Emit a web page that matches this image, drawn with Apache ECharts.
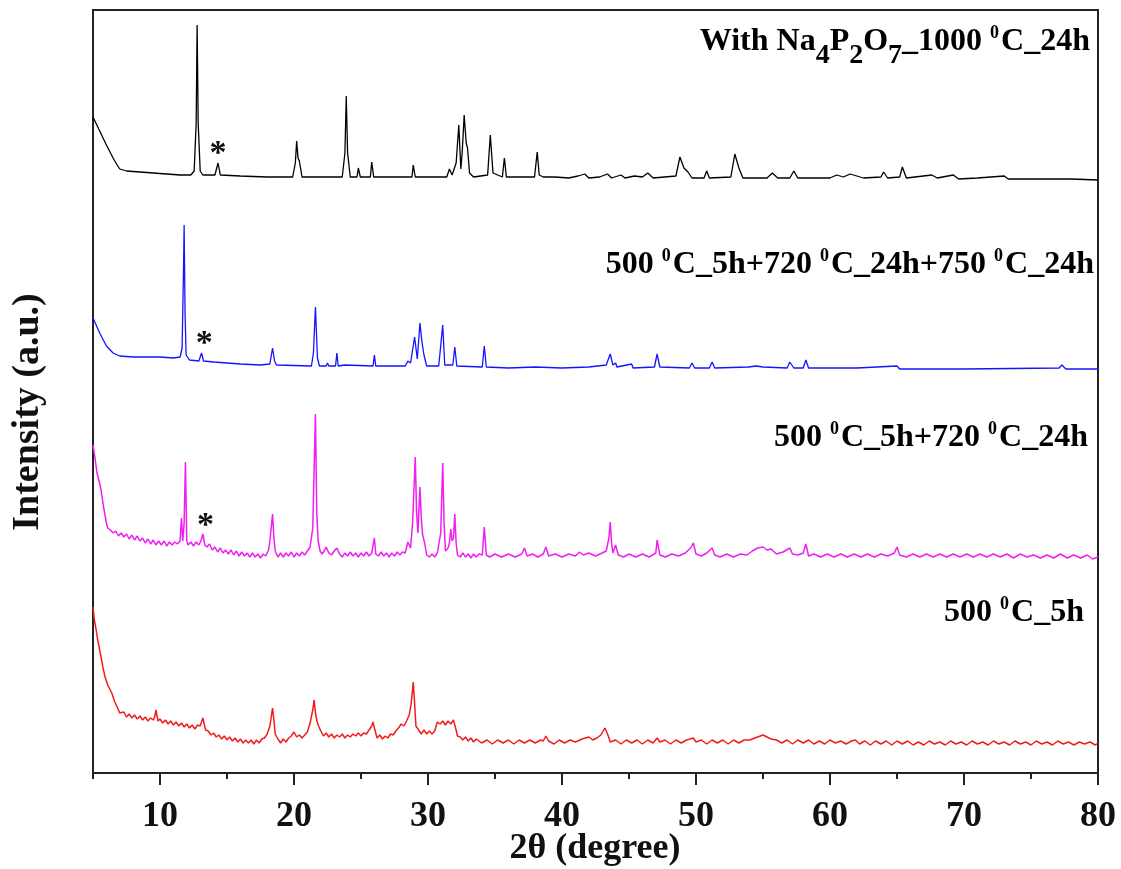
<!DOCTYPE html>
<html>
<head>
<meta charset="utf-8">
<script src="https://cdn.jsdelivr.net/npm/echarts@6/dist/echarts.min.js"></script>
<style>html,body{margin:0;padding:0;background:#fff}#c{width:1121px;height:869px}</style>
</head>
<body>
<div id="c"></div>
<script>
// ---- data (2θ in degrees, intensity in arbitrary units) ----
const seriesNames = ['With Na4P2O7_1000 °C_24h', '500 °C_5h+720 °C_24h+750 °C_24h', '500 °C_5h+720 °C_24h', '500 °C_5h'];
const seriesColors = ['#000000', '#1414ff', '#f01ef0', '#f01c1c'];
const offsets = [590, 400, 210, 25];
const xAxisTitle = '2θ (degree)';
const yAxisTitle = 'Intensity (a.u.)';

const blackData = [[5,66],[5.5,52],[6,38],[6.5,25],[6.8,18],[7,14],[7.5,12],[8.5,11],[9.5,10],[10.5,9],[11.5,8],[12.3,8],[12.55,12],[12.7,60],[12.77,158],[12.85,60],[13,12],[13.2,8],[14.1,8],[14.33,20],[14.5,8],[16,7],[18,6],[19.9,6],[20.1,20],[20.2,42],[20.3,25],[20.4,22],[20.6,6],[23.6,6],[23.8,30],[23.9,87],[24,30],[24.2,6],[24.7,6],[24.8,15],[24.95,6],[25.7,6],[25.8,21],[25.95,6],[28.1,6],[28.2,8],[28.3,6],[28.8,6],[28.9,18],[29.05,6],[31.4,6],[31.6,14],[31.8,8],[32.1,20],[32.3,58],[32.45,14],[32.55,30],[32.7,68],[32.85,40],[32.95,35],[33.1,10],[33.4,6],[34.45,8],[34.65,48],[34.85,10],[35.55,6],[35.7,25],[35.85,6],[37.95,6],[38.15,31],[38.3,8],[38.6,6],[39.5,6],[40.5,5],[41.2,7],[41.7,9],[42,5],[42.8,6],[43.4,9],[43.7,5],[44.4,8],[44.7,5],[45.4,7],[46,6],[46.4,10],[46.8,5],[48.5,7],[48.8,26],[49.1,15],[49.4,11],[49.7,5],[50.6,5],[50.8,12],[51,5],[52.6,6],[52.9,29],[53.2,15],[53.5,5],[55.3,5],[55.7,10],[56.1,5],[57,5],[57.3,12],[57.6,5],[58.5,5],[60,5],[60.5,8],[61,6],[61.5,9],[62,7],[62.5,5],[63.8,6],[64,11],[64.3,5],[65.2,6],[65.4,16],[65.7,5],[67.6,8],[68,5],[69.2,8],[69.6,4],[71,5],[73,7],[73.3,4],[76,4],[78,4],[80,3]];

const blueData = [[5,55],[5.5,40],[6,27],[6.5,20],[7,17],[8,16],[9,16],[10,16],[11,15],[11.5,16],[11.65,25],[11.75,100],[11.8,148],[11.87,60],[11.95,18],[12.2,13],[12.9,12],[13.1,20],[13.25,12],[14,11],[15,10],[16,9],[17.5,8],[18.2,9],[18.4,25],[18.55,12],[18.7,8],[21.3,7],[21.45,20],[21.6,66],[21.75,15],[21.9,7],[22.4,7],[22.5,10],[22.6,7],[23.1,7],[23.2,20],[23.3,7],[23.8,8],[23.9,6],[25.9,7],[26,18],[26.1,7],[28.3,7],[28.5,12],[28.7,10],[29,36],[29.2,14],[29.4,50],[29.55,31],[29.7,18],[29.9,7],[30.8,7],[31.1,48],[31.25,8],[31.85,8],[32,26],[32.15,7],[34.05,6],[34.2,27],[34.35,6],[36,5],[38,6],[40,5],[42,6],[43.3,8],[43.6,19],[43.8,8],[44,10],[44.1,6],[45.2,9],[45.3,5],[46.9,6],[47.1,19],[47.3,6],[49.5,5],[49.7,10],[49.9,5],[51,5],[51.2,11],[51.4,5],[53.9,6],[54.5,7],[55,6],[56.8,5],[57,11],[57.3,5],[58,5],[58.2,13],[58.4,5],[62,5],[65,7],[65.2,4],[70,4],[77.1,5],[77.3,8],[77.6,4],[80,4]];

const magentaData = [[5,118],[5.15,105],[5.3,90],[5.45,82],[5.6,73],[5.8,55],[6,40],[6.1,35],[6.3,33],[6.5,30],[6.7,32],[6.9,27],[7.1,30],[7.3,26],[7.5,29],[7.7,24],[7.9,28],[8.1,23],[8.3,27],[8.5,22],[8.7,25],[8.9,20],[9.1,24],[9.3,19],[9.5,23],[9.7,18],[9.9,22],[10.1,18],[10.3,22],[10.5,17],[10.7,21],[10.9,18],[11.1,21],[11.3,19],[11.5,22],[11.6,45],[11.7,22],[11.8,40],[11.9,101],[12,22],[12.1,18],[12.3,21],[12.5,17],[12.7,21],[12.9,18],[13.05,22],[13.2,29],[13.35,18],[13.5,16],[13.7,19],[13.9,13],[14.1,16],[14.3,11],[14.5,15],[14.7,10],[14.9,13],[15.1,9],[15.3,13],[15.5,8],[15.7,12],[15.9,7],[16.1,11],[16.3,7],[16.5,10],[16.7,6],[16.9,10],[17.1,6],[17.3,9],[17.5,5],[17.7,9],[17.9,7],[18.1,13],[18.2,22],[18.4,49],[18.5,25],[18.6,12],[18.8,6],[19,10],[19.2,6],[19.4,10],[19.6,7],[19.8,11],[20,6],[20.2,10],[20.4,7],[20.6,11],[20.8,8],[21,12],[21.2,16],[21.4,35],[21.6,149],[21.7,50],[21.8,22],[21.95,12],[22.1,9],[22.3,13],[22.4,16],[22.6,10],[22.8,8],[23,12],[23.2,15],[23.4,9],[23.6,6],[23.8,10],[24,7],[24.2,11],[24.4,7],[24.6,10],[24.8,6],[25,10],[25.2,7],[25.4,11],[25.6,7],[25.8,10],[26,25],[26.1,9],[26.3,7],[26.5,11],[26.7,7],[26.9,10],[27.1,6],[27.3,10],[27.5,7],[27.7,11],[27.9,8],[28.1,11],[28.3,10],[28.5,21],[28.7,15],[28.85,40],[29.05,106],[29.15,50],[29.25,30],[29.4,76],[29.5,45],[29.6,28],[29.75,20],[29.9,8],[30.1,6],[30.3,9],[30.5,6],[30.7,10],[30.8,12],[30.95,30],[31.1,100],[31.2,40],[31.3,12],[31.5,15],[31.6,20],[31.7,34],[31.8,22],[31.9,25],[32,49],[32.1,20],[32.2,8],[32.4,6],[32.6,10],[32.8,6],[33,9],[33.2,5],[33.4,9],[33.6,6],[33.8,9],[34.05,8],[34.2,36],[34.35,8],[34.6,6],[35,9],[35.5,6],[36,9],[36.5,6],[37,9],[37.2,15],[37.4,7],[37.8,9],[38.2,6],[38.6,9],[38.8,16],[39,7],[39.5,9],[40,6],[40.5,9],[41,7],[41.3,11],[41.6,8],[42,10],[42.5,7],[43,10],[43.3,12],[43.5,25],[43.6,41],[43.7,20],[43.8,10],[44,18],[44.2,8],[44.6,6],[45,9],[45.5,6],[46,9],[46.5,6],[47,10],[47.1,23],[47.3,8],[47.7,6],[48.2,9],[48.7,7],[49.2,10],[49.6,15],[49.8,20],[50,9],[50.4,7],[50.8,10],[51.2,15],[51.4,8],[51.8,6],[52.3,9],[52.8,6],[53.3,9],[53.8,8],[54.2,12],[54.6,15],[55,16],[55.3,13],[55.6,14],[56,9],[56.5,11],[57,15],[57.2,9],[57.6,8],[58,10],[58.2,19],[58.4,7],[58.8,9],[59.3,6],[59.8,9],[60.3,6],[60.8,9],[61.3,6],[61.8,9],[62.3,6],[62.8,9],[63.3,6],[63.8,9],[64.3,7],[64.8,10],[65,16],[65.2,8],[65.7,6],[66.2,9],[66.7,6],[67.2,9],[67.7,6],[68.2,9],[68.7,6],[69.2,9],[69.7,6],[70.2,9],[70.7,6],[71.2,9],[71.7,6],[72.2,9],[72.7,6],[73.2,9],[73.7,5],[74.2,9],[74.7,6],[75.2,8],[75.7,5],[76.2,8],[76.7,5],[77.2,9],[77.7,5],[78.2,8],[78.7,5],[79.2,8],[79.6,4],[80,6]];

const redData = [[5,141],[5.1,128],[5.2,121],[5.35,108],[5.5,98],[5.6,91],[5.75,80],[5.9,71],[6.1,63],[6.4,55],[6.6,47],[6.8,41],[7,35],[7.1,33],[7.3,36],[7.5,31],[7.7,34],[7.9,30],[8.1,33],[8.3,29],[8.5,32],[8.7,28],[8.9,31],[9.1,27],[9.3,30],[9.5,28],[9.6,31],[9.7,38],[9.85,27],[10,29],[10.2,25],[10.4,28],[10.6,24],[10.8,27],[11,23],[11.2,26],[11.4,22],[11.6,25],[11.8,21],[12,24],[12.2,20],[12.4,23],[12.6,19],[12.8,23],[13,22],[13.2,30],[13.4,18],[13.6,17],[13.8,13],[14,15],[14.2,11],[14.4,13],[14.6,9],[14.8,12],[15,8],[15.2,11],[15.4,7],[15.6,10],[15.8,6],[16,9],[16.2,5],[16.4,8],[16.6,5],[16.8,8],[17,4],[17.2,8],[17.4,5],[17.6,9],[17.8,10],[18,14],[18.2,22],[18.4,40],[18.5,28],[18.6,14],[18.8,9],[19,5],[19.2,9],[19.4,6],[19.6,10],[19.8,12],[20,16],[20.2,11],[20.4,13],[20.6,10],[20.8,13],[21,16],[21.2,25],[21.4,38],[21.5,48],[21.6,35],[21.7,28],[21.8,23],[22,17],[22.2,12],[22.4,15],[22.6,11],[22.8,14],[23,10],[23.2,13],[23.4,11],[23.6,14],[23.8,10],[24,13],[24.2,11],[24.4,14],[24.6,12],[24.8,15],[25,12],[25.2,15],[25.4,14],[25.6,18],[25.8,22],[25.9,26],[26,20],[26.2,10],[26.4,13],[26.6,9],[26.8,12],[27,10],[27.2,14],[27.4,13],[27.6,17],[27.8,20],[28,24],[28.2,22],[28.4,27],[28.6,33],[28.75,45],[28.9,66],[29,45],[29.1,22],[29.3,18],[29.5,14],[29.7,18],[29.9,14],[30.1,17],[30.3,14],[30.5,17],[30.7,26],[30.9,24],[31.1,27],[31.3,23],[31.5,27],[31.7,24],[31.9,28],[32.1,18],[32.2,12],[32.4,11],[32.6,8],[32.8,11],[33,7],[33.2,10],[33.4,6],[33.6,9],[34,5],[34.4,8],[34.8,4],[35.2,8],[35.6,5],[36,8],[36.4,4],[36.8,8],[37.2,5],[37.6,8],[38,5],[38.4,8],[38.6,7],[38.8,12],[39,7],[39.4,4],[39.8,8],[40.2,5],[40.6,8],[41,6],[41.5,9],[42,11],[42.3,8],[42.6,10],[42.9,13],[43.2,20],[43.4,14],[43.6,6],[44,8],[44.4,4],[44.8,8],[45.2,5],[45.6,8],[46,4],[46.4,8],[46.8,5],[47.1,10],[47.3,6],[47.7,8],[48.1,4],[48.5,8],[48.9,5],[49.3,8],[49.8,10],[50,6],[50.4,8],[50.8,4],[51.2,8],[51.6,5],[52,8],[52.4,4],[52.8,8],[53.2,5],[53.6,8],[54,8],[54.4,10],[54.8,12],[55,13],[55.3,11],[55.6,9],[56,8],[56.4,5],[56.8,8],[57.2,4],[57.6,8],[58,5],[58.4,8],[58.8,4],[59.2,7],[59.6,4],[60,8],[60.4,5],[60.8,7],[61.2,4],[61.6,7],[61.9,8],[62.2,4],[62.6,7],[63,3],[63.4,7],[63.8,4],[64.2,7],[64.6,3],[65,7],[65.4,4],[65.8,7],[66.2,3],[66.6,6],[67,3],[67.4,7],[67.8,4],[68.2,6],[68.6,3],[69,7],[69.4,4],[69.8,6],[70.2,3],[70.6,7],[71,4],[71.4,6],[71.8,3],[72.2,7],[72.6,4],[73,6],[73.4,3],[73.8,7],[74.2,4],[74.6,6],[75,3],[75.4,7],[75.8,4],[76.2,6],[76.6,3],[77,7],[77.4,4],[77.8,6],[78.2,3],[78.6,6],[79,4],[79.4,6],[79.8,3],[80,5]];

const allData = [blackData, blueData, magentaData, redData];
// asterisk marks: [series index, 2θ, intensity]
const starMarks = [[0, 14.33, 35], [1, 13.3, 35], [2, 13.4, 43]];

const xMin = 5, xMax = 80, xInterval = 5;
const xMajorTicks = [10, 20, 30, 40, 50, 60, 70, 80];
const xMinorTicks = [5, 15, 25, 35, 45, 55, 65, 75];
const yMax = 763;

// ---- chart ----
const serif = 'Liberation Serif';
const chart = echarts.init(document.getElementById('c'));

const series = allData.map((d, i) => {
  const stars = starMarks.filter(s => s[0] === i).map(s => ({
    coord: [s[1], s[2] + offsets[i]], value: '*'
  }));
  return {
    type: 'line',
    name: seriesNames[i],
    data: d.map(p => [p[0], p[1] + offsets[i]]),
    showSymbol: false,
    symbol: 'none',
    smooth: false,
    silent: true,
    animation: false,
    lineStyle: { color: seriesColors[i], width: i >= 2 ? 1.5 : 1.3 },
    markPoint: stars.length ? {
      symbol: 'circle', symbolSize: 0, silent: true, animation: false,
      label: { show: true, formatter: '*', color: '#111', fontFamily: serif, fontWeight: 'bold', fontSize: 34, offset: [0, 6] },
      data: stars
    } : undefined
  };
});

const richBase = {
  n: { fontFamily: serif, fontWeight: 'bold', fontSize: 32, color: '#111', verticalAlign: 'middle', lineHeight: 40 },
  sub: { fontFamily: serif, fontWeight: 'bold', fontSize: 28, color: '#111', verticalAlign: 'bottom', lineHeight: 40, padding: [0, 0, -8, 0] },
  sup: { fontFamily: serif, fontWeight: 'bold', fontSize: 18, color: '#111', verticalAlign: 'top', lineHeight: 40, padding: [2, 2, 0, 0] }
};
function lbl(text, right, top) {
  return { type: 'text', right: right, top: top, silent: true,
    style: { text: text, rich: richBase } };
}

chart.setOption({
  animation: false,
  backgroundColor: '#fff',
  grid: { left: 93, right: 23, top: 10, bottom: 96, outerBoundsMode: 'none', containLabel: false, show: true, borderColor: '#222', borderWidth: 2, backgroundColor: 'transparent' },
  xAxis: [{
    type: 'value', min: xMin, max: xMax, interval: xInterval,
    axisLine: { show: true, lineStyle: { color: '#222', width: 2 } },
    axisTick: { show: true, inside: false, length: 12, customValues: xMajorTicks, lineStyle: { color: '#222', width: 2 } },
    axisLabel: { show: true, customValues: xMajorTicks, margin: 26, fontFamily: serif, fontWeight: 'bold', fontSize: 36, color: '#111' },
    splitLine: { show: false }
  }, {
    type: 'value', min: xMin, max: xMax, interval: xInterval, position: 'bottom', gridIndex: 0,
    axisLine: { show: false },
    axisTick: { show: true, inside: false, length: 6, customValues: xMinorTicks, lineStyle: { color: '#222', width: 2 } },
    axisLabel: { show: false },
    splitLine: { show: false }
  }],
  yAxis: {
    type: 'value', min: 0, max: yMax,
    axisLine: { show: true, lineStyle: { color: '#222', width: 2 } },
    axisTick: { show: false }, axisLabel: { show: false }, splitLine: { show: false }
  },
  series: series,
  graphic: [
    { type: 'text', x: 28, y: 412, rotation: Math.PI / 2, silent: true,
      style: { text: yAxisTitle, align: 'center', verticalAlign: 'middle', fontFamily: serif, fontWeight: 'bold', fontSize: 38, fill: '#111' } },
    { type: 'text', x: 595, y: 849, silent: true,
      style: { text: xAxisTitle, align: 'center', verticalAlign: 'middle', fontFamily: serif, fontWeight: 'bold', fontSize: 36, fill: '#111' } },
    lbl('{n|With Na}{sub|4}{n|P}{sub|2}{n|O}{sub|7}{n|_1000 }{sup|0}{n|C_24h}', 31, 22),
    lbl('{n|500 }{sup|0}{n|C_5h+720 }{sup|0}{n|C_24h+750 }{sup|0}{n|C_24h}', 27, 245),
    lbl('{n|500 }{sup|0}{n|C_5h+720 }{sup|0}{n|C_24h}', 33, 418),
    lbl('{n|500 }{sup|0}{n|C_5h}', 37, 593)
  ]
});
</script>
</body>
</html>
